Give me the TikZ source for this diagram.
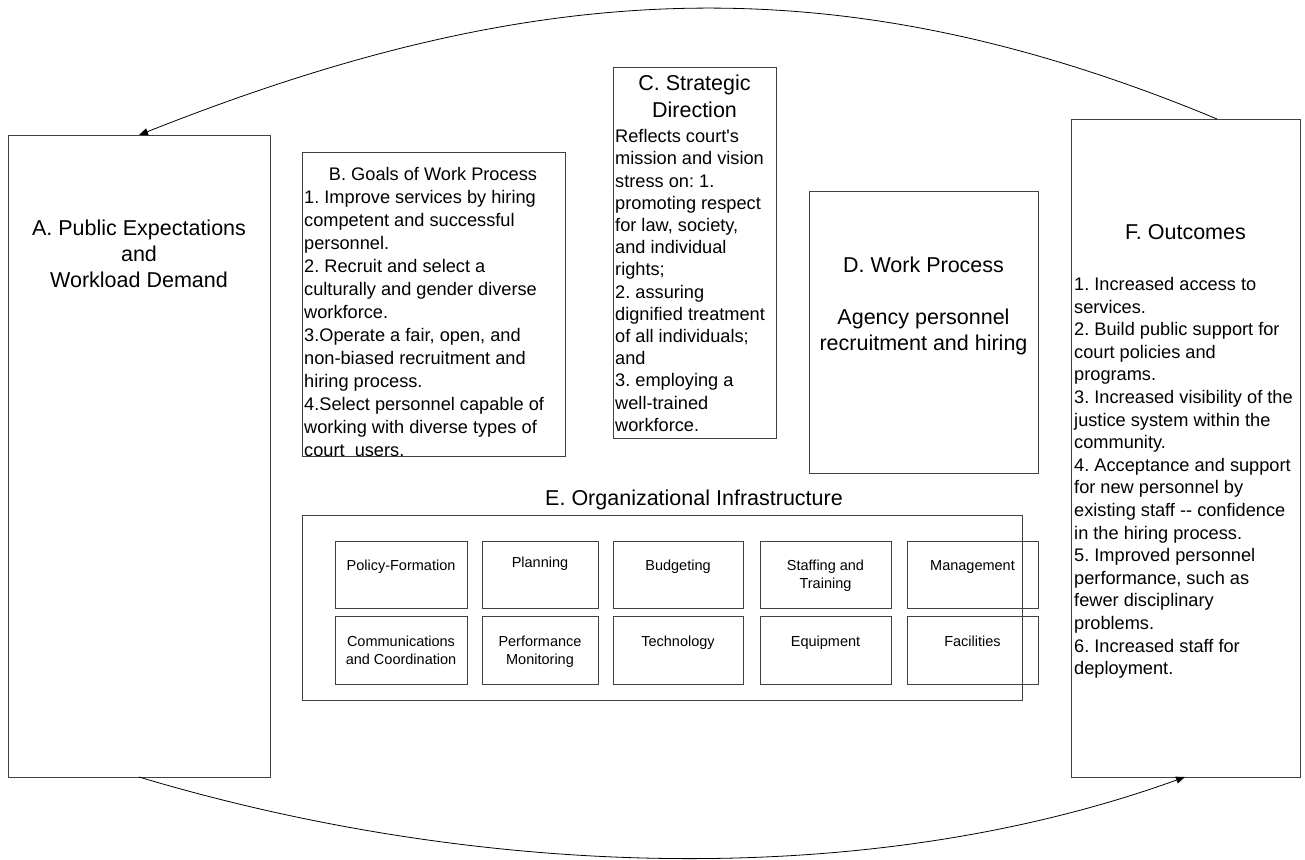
\documentclass[tikz,border=0pt]{standalone}
\usepackage{fontspec}
\setmainfont{Liberation Sans}[Ligatures=TeXOff]
\usetikzlibrary{arrows.meta}
\frenchspacing
\begin{document}
\begin{tikzpicture}[x=1pt,y=-1pt,
  box/.style={draw=black!75, line width=1pt, inner sep=0pt, outer sep=0pt},
  ttl/.style={font=\fontsize{21.5}{26}\selectfont, align=center, inner sep=0pt, anchor=base},
  body/.style={font=\fontsize{18.2}{22.4}\selectfont, align=left, inner sep=0pt, anchor=base west},
  celltxt/.style={font=\fontsize{14.5}{18}\selectfont, align=center, inner sep=0pt, anchor=base},
  conn/.style={draw=black, line width=0.8pt, -{Triangle[length=9pt,width=7pt]}}]
\useasboundingbox (0,0) rectangle (1305,859);
\fill[white] (0,0) rectangle (1305,859);

% main boxes
\node[box, minimum width=262pt, minimum height=642pt] (A) at (139,456) {};
\node[box, minimum width=263pt, minimum height=304pt] (B) at (433.5,304) {};
\node[box, minimum width=163pt, minimum height=371pt] (C) at (694.5,252.5) {};
\node[box, minimum width=229pt, minimum height=282pt] (D) at (923.5,332) {};
\node[box, minimum width=720pt, minimum height=185pt] (E) at (662,607.5) {};
\node[box, minimum width=229pt, minimum height=658pt] (F) at (1185.5,448) {};

% A (base anchor = baseline of last line)
\node[ttl] (Atxt) at (139,287) {A. Public Expectations\\and\\Workload Demand};

% B
\node[font=\fontsize{18.2}{23}\selectfont, inner sep=0pt, anchor=base] (Btitle) at (433,180.5) {B. Goals of Work Process};
\begin{scope}
\clip (302,152) rectangle (565,456);
\node[body, font=\fontsize{18.2}{23}\selectfont] (Bbody) at (304,456.5) {1. Improve services by hiring\\competent and successful\\personnel.\\2. Recruit and select a\\culturally and gender diverse\\workforce.\\3.Operate a fair, open, and\\non-biased recruitment and\\hiring process.\\4.Select personnel capable of\\working with diverse types of\\court\ \ users.};
\end{scope}

% C
\node[ttl, font=\fontsize{21.5}{27}\selectfont] (Ctitle) at (694.5,117.7) {C. Strategic\\Direction};
\node[body, font=\fontsize{18.2}{22.2}\selectfont] (Cbody) at (615,431.2) {Reflects court's\\mission and vision\\stress on: 1.\\promoting respect\\for law, society,\\and individual\\rights;\\2. assuring\\dignified treatment\\of all individuals;\\and\\3. employing a\\well-trained\\workforce.};

% D
\node[ttl] (Dtxt) at (923.5,350) {D. Work Process\\[26pt]Agency personnel\\recruitment and hiring};

% E
\node[ttl] (Etitle) at (694,505.5) {E. Organizational Infrastructure};
\node[box, minimum width=132pt, minimum height=67pt] (e1) at (401,574.5) {};
\node[box, minimum width=116pt, minimum height=67pt] (e2) at (540,574.5) {};
\node[box, minimum width=130pt, minimum height=67pt] (e3) at (678,574.5) {};
\node[box, minimum width=131pt, minimum height=67pt] (e4) at (825.5,574.5) {};
\node[box, minimum width=131pt, minimum height=67pt] (e5) at (972.5,574.5) {};
\node[box, minimum width=132pt, minimum height=68pt] (e6) at (401,650) {};
\node[box, minimum width=116pt, minimum height=68pt] (e7) at (540,650) {};
\node[box, minimum width=130pt, minimum height=68pt] (e8) at (678,650) {};
\node[box, minimum width=131pt, minimum height=68pt] (e9) at (825.5,650) {};
\node[box, minimum width=131pt, minimum height=68pt] (e10) at (972.5,650) {};
\node[celltxt] (t1) at (401,570.2) {Policy-Formation};
\node[celltxt] (t2) at (540,567) {Planning};
\node[celltxt] (t3) at (678,570.2) {Budgeting};
\node[celltxt] (t4) at (825.5,588.2) {Staffing and\\Training};
\node[celltxt] (t5) at (972.5,570.2) {Management};
\node[celltxt] (t6) at (401,664.2) {Communications\\and Coordination};
\node[celltxt] (t7) at (540,664.2) {Performance\\Monitoring};
\node[celltxt] (t8) at (678,646.2) {Technology};
\node[celltxt] (t9) at (825.5,646.2) {Equipment};
\node[celltxt] (t10) at (972.5,646.2) {Facilities};

% F
\node[ttl] (Ftitle) at (1185.5,239.7) {F. Outcomes};
\node[body, font=\fontsize{18.2}{22.6}\selectfont] (Fbody) at (1074,674.7) {1. Increased access to\\services.\\2. Build public support for\\court policies and\\programs.\\3. Increased visibility of the\\justice system within the\\community.\\4. Acceptance and support\\for new personnel by\\existing staff -- confidence\\in the hiring process.\\5. Improved personnel\\performance, such as\\fewer disciplinary\\problems.\\6. Increased staff for\\deployment.};

% feedback arcs
\draw[conn] ([xshift=31.5pt]F.north) .. controls (830,-42) and (527,-19) .. (A.north);
\draw[conn] (A.south) .. controls (466,875) and (858,895) .. ([xshift=-0.5pt]F.south);
\end{tikzpicture}
\end{document}
